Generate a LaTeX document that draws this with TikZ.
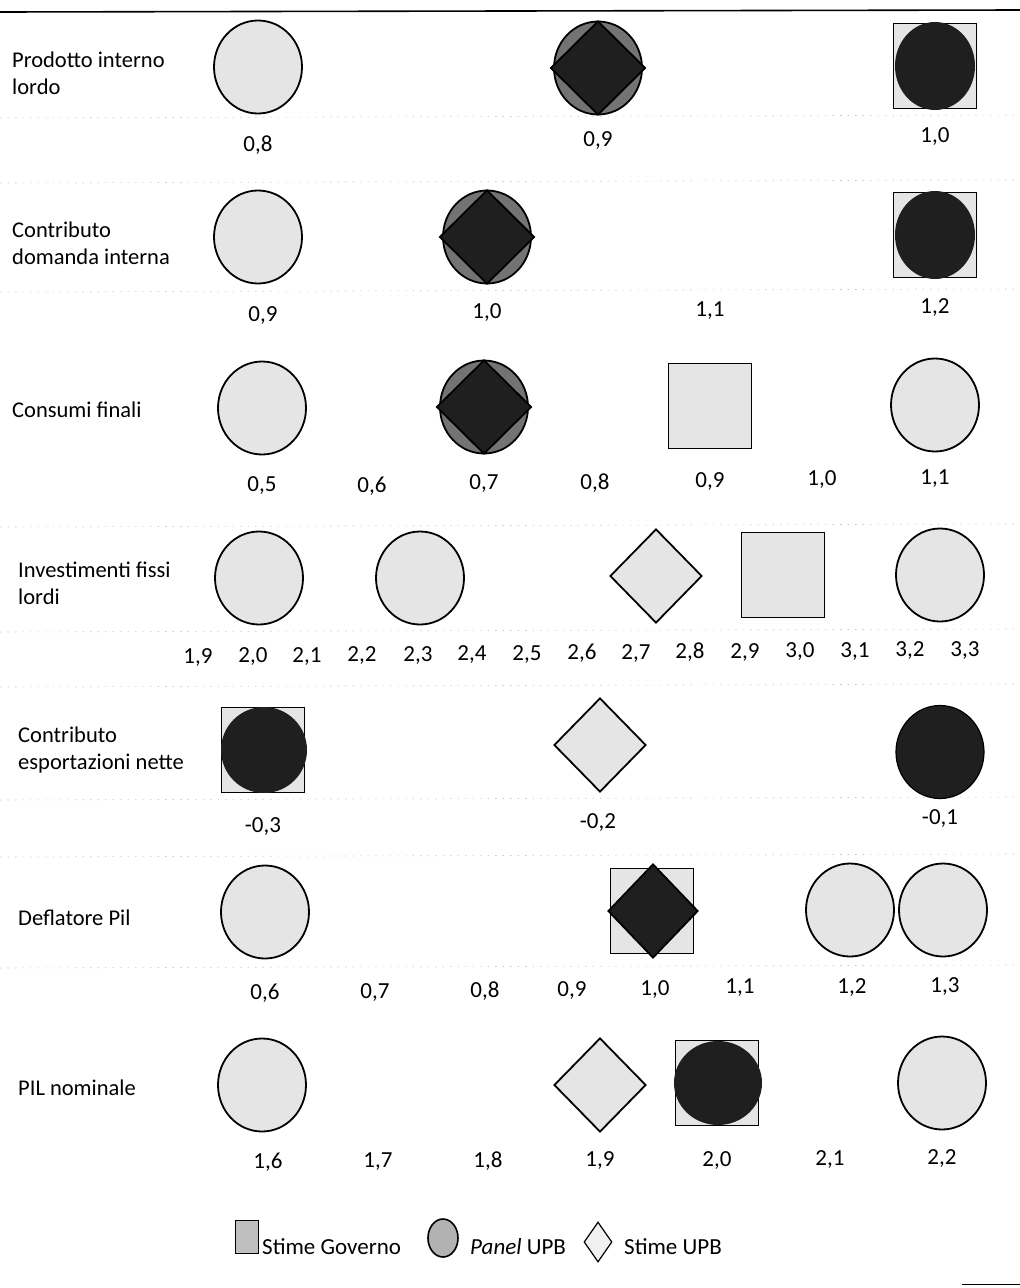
\documentclass[tikz,border=0pt]{standalone}
\usepackage{fontspec}
\setmainfont{Carlito}
\usetikzlibrary{shapes.geometric}
\tikzset{
  lbl/.style={anchor=west, align=left, font=\fontsize{22.5}{27}\selectfont, inner sep=0pt},
  tick/.style={font=\fontsize{23}{26}\selectfont, inner sep=0pt},
  lgtext/.style={anchor=west, font=\fontsize{23}{27}\selectfont, inner sep=0pt},
  mk/.style={draw=black, line width=1.8pt, inner sep=0pt},
  circ/.style={mk, ellipse, minimum width=88pt, minimum height=93pt},
  dmd/.style={mk, diamond, minimum width=92pt, minimum height=94pt},
  sqr/.style={mk, rectangle, minimum width=83pt, minimum height=85pt},
  lightf/.style={fill=black!10},
  midf/.style={fill=black!55},
  darkf/.style={fill=black!88},
  grid/.style={draw=black!22, line width=0.6pt, dash pattern=on 1.5pt off 6pt},
}
\begin{document}
\begin{tikzpicture}[x=1pt,y=-1pt]
\useasboundingbox (0,0) rectangle (1020,1288);
% header rule
\draw[line width=1.6pt] (0,12) -- (1020,10);
\draw[line width=0.8pt] (962,1284) -- (1020,1284);
% faint grid lines
\foreach \yy in {118,183,292,527,632,687,800,857,968}{
  \draw[grid] (0,\yy) -- (1015,\yy-3);
}

% ---------- Row 1 ----------
\node[lbl] (l1) at (12,73) {Prodotto interno\\lordo};
\node[circ, lightf] (r1a) at (258,67) {};
\node[circ, midf] (r1b) at (598,68) {};
\node[dmd, darkf, minimum width=95pt] (r1bd) at (598,68) {};
\node[sqr, lightf] (r1c) at (935,66) {};
\node[ellipse, darkf, inner sep=0pt, minimum width=80pt, minimum height=88pt] (r1cc) at (935,66) {};
\node[tick] (t1a) at (258,145) {0,8};
\node[tick] (t1b) at (598,141) {0,9};
\node[tick] (t1c) at (935,137) {1,0};

% ---------- Row 2 ----------
\node[lbl] (l2) at (12,243) {Contributo\\domanda interna};
\node[circ, lightf] (r2a) at (258,237) {};
\node[circ, midf] (r2b) at (487,237) {};
\node[dmd, darkf, minimum width=95pt] (r2bd) at (487,237) {};
\node[sqr, lightf] (r2c) at (935,235) {};
\node[ellipse, darkf, inner sep=0pt, minimum width=80pt, minimum height=88pt] (r2cc) at (935,235) {};
\node[tick] (t2a) at (263,316) {0,9};
\node[tick] (t2b) at (487,313) {1,0};
\node[tick] (t2c) at (710,311) {1,1};
\node[tick] (t2d) at (935,308) {1,2};

% ---------- Row 3 ----------
\node[lbl] (l3) at (12,410) {Consumi finali};
\node[circ, lightf] (r3a) at (262,408) {};
\node[circ, midf] (r3b) at (484,407) {};
\node[dmd, darkf, minimum width=95pt] (r3bd) at (484,407) {};
\node[sqr, lightf] (r3c) at (710,406) {};
\node[circ, lightf] (r3d) at (935,405) {};
\node[tick] (t3a) at (262,486) {0,5};
\node[tick] (t3b) at (372,486) {0,6};
\node[tick] (t3c) at (484,484) {0,7};
\node[tick] (t3d) at (595,483) {0,8};
\node[tick] (t3e) at (710,482) {0,9};
\node[tick] (t3f) at (822,480) {1,0};
\node[tick] (t3g) at (935,479) {1,1};

% ---------- Row 4 ----------
\node[lbl] (l4) at (18,583) {Investimenti fissi\\lordi};
\node[circ, lightf] (r4a) at (259,578) {};
\node[circ, lightf] (r4b) at (420,578) {};
\node[dmd, lightf] (r4c) at (656,576) {};
\node[sqr, lightf] (r4d) at (783,575) {};
\node[circ, lightf] (r4e) at (940,575) {};
\node[tick] (t4a) at (198,657) {1,9};
\node[tick] (t4b) at (253,656) {2,0};
\node[tick] (t4c) at (307,656) {2,1};
\node[tick] (t4d) at (362,655) {2,2};
\node[tick] (t4e) at (418,655) {2,3};
\node[tick] (t4f) at (472,654) {2,4};
\node[tick] (t4g) at (527,654) {2,5};
\node[tick] (t4h) at (582,653) {2,6};
\node[tick] (t4i) at (636,653) {2,7};
\node[tick] (t4j) at (690,652) {2,8};
\node[tick] (t4k) at (745,652) {2,9};
\node[tick] (t4l) at (800,651) {3,0};
\node[tick] (t4m) at (855,651) {3,1};
\node[tick] (t4n) at (910,650) {3,2};
\node[tick] (t4o) at (965,650) {3,3};

% ---------- Row 5 ----------
\node[lbl] (l5) at (18,750) {Contributo\\esportazioni nette};
\node[sqr, lightf] (r5a) at (263,750) {};
\node[ellipse, darkf, inner sep=0pt, minimum width=86pt, minimum height=86pt] (r5ac) at (264,750) {};
\node[dmd, lightf] (r5b) at (600,745) {};
\node[ellipse, darkf, draw=black, line width=1.2pt, inner sep=0pt, minimum width=88pt, minimum height=93pt] (r5c) at (940,752) {};
\node[tick] (t5a) at (263,826) {-0,3};
\node[tick] (t5b) at (598,822) {-0,2};
\node[tick] (t5c) at (940,818) {-0,1};

% ---------- Row 6 ----------
\node[lbl] (l6) at (18,918) {Deflatore Pil};
\node[circ, lightf] (r6a) at (265,912) {};
\node[sqr, lightf] (r6b) at (652,911) {};
\node[dmd, darkf, minimum width=90pt, minimum height=94pt] (r6bd) at (653,911) {};
\node[circ, lightf] (r6c) at (850,910) {};
\node[circ, lightf] (r6d) at (943,910) {};
\node[tick] (t6a) at (265,993) {0,6};
\node[tick] (t6b) at (375,992) {0,7};
\node[tick] (t6c) at (485,991) {0,8};
\node[tick] (t6d) at (572,990) {0,9};
\node[tick] (t6e) at (655,989) {1,0};
\node[tick] (t6f) at (740,988) {1,1};
\node[tick] (t6g) at (852,987) {1,2};
\node[tick] (t6h) at (945,986) {1,3};

% ---------- Row 7 ----------
\node[lbl] (l7) at (18,1088) {PIL nominale};
\node[circ, lightf] (r7a) at (262,1085) {};
\node[dmd, lightf] (r7b) at (600,1085) {};
\node[sqr, lightf] (r7c) at (717,1083) {};
\node[ellipse, darkf, inner sep=0pt, minimum width=88pt, minimum height=84pt] (r7cc) at (718,1083) {};
\node[circ, lightf] (r7d) at (942,1083) {};
\node[tick] (t7a) at (268,1162) {1,6};
\node[tick] (t7b) at (378,1162) {1,7};
\node[tick] (t7c) at (488,1161) {1,8};
\node[tick] (t7d) at (600,1160) {1,9};
\node[tick] (t7e) at (717,1160) {2,0};
\node[tick] (t7f) at (830,1159) {2,1};
\node[tick] (t7g) at (942,1158) {2,2};

% ---------- Legend ----------
\node[mk, rectangle, fill=black!25, line width=1.4pt, minimum width=23pt, minimum height=33pt] (kg) at (247,1237) {};
\node[lgtext] (kgt) at (262,1247) {Stime Governo};
\node[mk, ellipse, fill=black!30, line width=1.6pt, minimum width=30pt, minimum height=38pt] (kp) at (443,1238) {};
\node[lgtext] (kpt) at (470,1247) {\textit{Panel} UPB};
\node[mk, diamond, fill=black!6, line width=1.2pt, minimum width=28pt, minimum height=40pt] (ku) at (598,1242) {};
\node[lgtext] (kut) at (624,1247) {Stime UPB};
\end{tikzpicture}
\end{document}
